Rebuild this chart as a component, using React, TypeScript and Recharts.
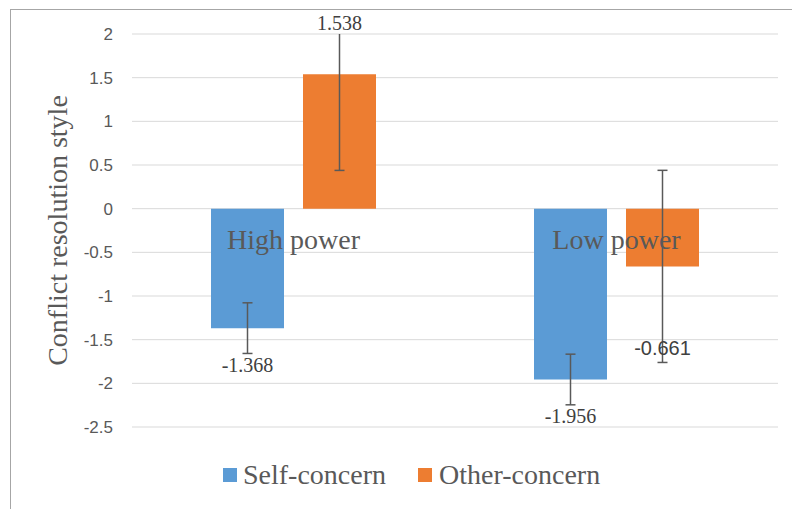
import React from "react";
import { BarChart, Bar, XAxis, YAxis, CartesianGrid, ErrorBar, LabelList, Legend, ReferenceDot } from "recharts";

const categories = ["High power", "Low power"];
const selfConcern = [-1.368, -1.956];
const otherConcern = [1.538, -0.661];
const selfError = [0.29, 0.29];
const otherError = [1.1, 1.1];
const yTicks = [-2.5, -2, -1.5, -1, -0.5, 0, 0.5, 1, 1.5, 2];

const data = categories.map((name, i) => ({
  name,
  self: selfConcern[i],
  other: otherConcern[i],
  selfErr: selfError[i],
  otherErr: otherError[i],
}));

const SERIF = '"Liberation Serif", "Times New Roman", serif';
const SANS = '"Liberation Sans", Arial, sans-serif';
const BLUE = "#5B9BD5";
const ORANGE = "#ED7D31";
const W = 792;
const H = 509;
const PLOT_TOP = 34;

// data label placed beyond the bar end; extra shift per point where excel had it moved
const makeLabel = (shift: number[], fonts: string[]) => (props: any) => {
  const vb = props.viewBox || props;
  const { x, y, width, height } = vb;
  const { value, index } = props;
  const top = Math.min(y, y + height);
  const bottom = Math.max(y, y + height);
  const end = value < 0 ? bottom : top;
  const ty = end + (value < 0 ? 44 : -44) + (shift[index] || 0);
  return (
    <text x={x + width / 2} y={ty} textAnchor="middle" fontFamily={fonts[index] || SERIF} fontSize={20} fill="#404040">
      {value}
    </text>
  );
};

const CategoryLabel = (props: any) => {
  const { viewBox, value } = props;
  const cx = viewBox.x + (viewBox.width || 0) / 2;
  const cy = viewBox.y + (viewBox.height || 0) / 2;
  return (
    <text x={cx} y={cy + 40} textAnchor="middle" fontFamily={SERIF} fontSize={28} fill="#595959">
      {value}
    </text>
  );
};

const AxisTitle = (props: any) => {
  const { viewBox } = props;
  const cy = viewBox.y + viewBox.height / 2;
  return (
    <text
      x={57}
      y={cy}
      transform={`rotate(-90, 57, ${cy})`}
      textAnchor="middle"
      dominantBaseline="central"
      fontFamily={SERIF}
      fontSize={28}
      fill="#595959"
    >
      Conflict resolution style
    </text>
  );
};

const LegendBox = () => (
  <div style={{ display: "flex", alignItems: "center", height: 34, paddingLeft: 223, fontFamily: SERIF, fontSize: 28, color: "#595959", lineHeight: "28px" }}>
    <span style={{ width: 14, height: 14, background: BLUE, marginRight: 6 }} />
    <span style={{ marginRight: 32 }}>Self-concern</span>
    <span style={{ width: 14, height: 14, background: ORANGE, marginRight: 7 }} />
    <span>Other-concern</span>
  </div>
);

export default function App() {
  return (
    <div style={{ position: "absolute", left: 0, top: 0, width: W, height: H, overflow: "hidden", background: "#fff" }}>
      {/* error bars past the axis max get cut like in excel */}
      <svg width={0} height={0} style={{ position: "absolute" }}>
        <defs>
          <clipPath id="plotClip">
            <rect x={0} y={PLOT_TOP} width={W} height={H - PLOT_TOP} />
          </clipPath>
        </defs>
      </svg>
      <BarChart
        width={W}
        height={H}
        data={data}
        margin={{ top: PLOT_TOP, right: 14, bottom: 48, left: 22 }}
        barSize={73}
        barGap={19}
      >
        <CartesianGrid vertical={false} stroke="#d9d9d9" strokeWidth={1} />
        <XAxis dataKey="name" hide />
        <YAxis
          width={110}
          domain={[-2.5, 2]}
          ticks={yTicks}
          allowDataOverflow
          axisLine={false}
          tickLine={false}
          tickSize={0}
          tickMargin={19}
          tick={{ fill: "#595959", fontSize: 17, fontFamily: SANS }}
          label={{ content: AxisTitle }}
        />
        <Legend verticalAlign="bottom" wrapperStyle={{ top: 458, left: 0, width: W, height: 34 }} content={LegendBox} />
        <Bar dataKey="self" name="Self-concern" fill={BLUE} isAnimationActive={false}>
          <ErrorBar dataKey="selfErr" width={5} stroke="#595959" strokeWidth={1.5} direction="y" clipPath="url(#plotClip)" />
          <LabelList dataKey="self" content={makeLabel([0, 0], [SERIF, SERIF])} />
        </Bar>
        <Bar dataKey="other" name="Other-concern" fill={ORANGE} isAnimationActive={false}>
          <ErrorBar dataKey="otherErr" width={5} stroke="#595959" strokeWidth={1.5} direction="y" clipPath="url(#plotClip)" />
          <LabelList dataKey="other" content={makeLabel([0, 45], [SERIF, SANS])} />
        </Bar>
        {categories.map((c) => (
          <ReferenceDot
            key={c}
            x={c}
            y={0}
            r={0}
            fill="none"
            stroke="none"
            ifOverflow="visible"
            label={{ value: c, content: CategoryLabel }}
          />
        ))}
      </BarChart>
      <div style={{ position: "absolute", left: 10, top: 9, width: 800, height: 520, borderTop: "1px solid #a6a6a6", borderLeft: "1px solid #a6a6a6" }} />
    </div>
  );
}
